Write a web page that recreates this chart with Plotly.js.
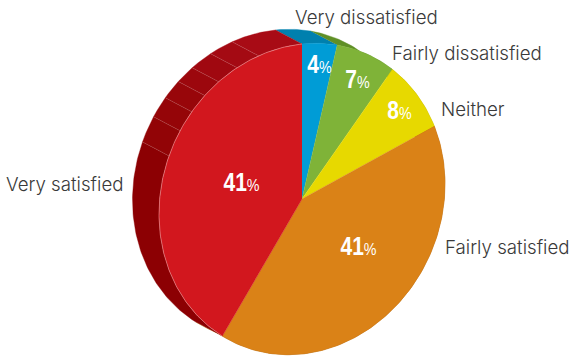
<!DOCTYPE html>
<html>
<head>
<meta charset="utf-8">
<script src="https://cdn.plot.ly/plotly-3.0.1.min.js"></script>
<style>html,body{margin:0;padding:0;background:#fff;overflow:hidden}#chart{width:571px;height:356px}</style>
</head>
<body>
<div id="chart"></div>
<script>
// Survey results, clockwise from twelve o'clock
const categories = ['Very dissatisfied', 'Fairly dissatisfied', 'Neither', 'Fairly satisfied', 'Very satisfied'];
const shares = [4, 7, 8, 41, 41];
const faceColors = ['#009cd6', '#7fb338', '#e7d900', '#da8217', '#d2171e'];
const sideColors = ['#0080ae', '#5f8f26', '#b5aa00', '#a9620f', '#8c0003'];

// Creases on the rim of the largest wedge, as a percentage of the full turn
const rimCreases = [95.1, 92.5, 90.1, 88.1, 86.0, 83.75, 81.0];
const rimShades = ['#a80b15', '#a40a13', '#a00810', '#9c070d', '#98060a', '#950508', '#920406', '#8c0003'];

// Label anchors
const outerLabelX = [295, 392, 441, 445, 6];
const outerLabelY = [17, 53, 109, 247, 184];
const valueLabelX = [319, 357, 399, 358, 241];
const valueLabelY = [64, 79, 110, 246, 182];

// Tilted disc: centre, half-width, half-height, shear, and extrusion offset
const disc = {cx: 302, cy: 199, a: 143, b: 155, shear: -15, dx: -26.5, dy: -14};

function rimPoint(turn, back) {
  const t = turn * 2 * Math.PI;
  return [
    disc.cx + disc.a * Math.sin(t) + (back ? disc.dx : 0),
    disc.cy - disc.b * Math.cos(t) + disc.shear * Math.sin(t) + (back ? disc.dy : 0)
  ];
}

function arc(from, to, back) {
  const n = Math.max(2, Math.ceil((to - from) * 360));
  const pts = [];
  for (let i = 0; i <= n; i++) pts.push(rimPoint(from + (to - from) * i / n, back));
  return pts;
}

function polygon(pts, color) {
  return {
    type: 'scatter', mode: 'lines', fill: 'toself', fillcolor: color,
    x: pts.map(p => p[0]), y: pts.map(p => p[1]),
    line: {color: color, width: 0.4}, hoverinfo: 'skip', showlegend: false
  };
}

function edge(pts, color, width) {
  return {
    type: 'scatter', mode: 'lines',
    x: pts.map(p => p[0]), y: pts.map(p => p[1]),
    line: {color: color, width: width}, hoverinfo: 'skip', showlegend: false
  };
}

const total = shares.reduce((s, v) => s + v, 0);
const starts = [];
let running = 0;
shares.forEach(v => { starts.push(running / total); running += v; });
const ends = starts.map((s, i) => s + shares[i] / total);

const traces = [];

// Extruded side, drawn first so the face covers whatever is hidden
shares.forEach((v, i) => {
  if (i === shares.length - 1) return;
  const strip = arc(starts[i], ends[i], false).concat(arc(starts[i], ends[i], true).reverse());
  traces.push(polygon(strip, sideColors[i]));
});

// The largest wedge's rim is split into shaded facets
const lastStart = starts[starts.length - 1];
const facetEdges = [1].concat(rimCreases.map(c => c / 100), [lastStart]);
for (let i = 0; i < facetEdges.length - 1; i++) {
  const hi = facetEdges[i], lo = facetEdges[i + 1];
  const strip = arc(lo, hi, false).concat(arc(lo, hi, true).reverse());
  traces.push(polygon(strip, rimShades[i]));
}
rimCreases.forEach(c => {
  const turn = c / 100;
  traces.push(edge([rimPoint(turn, false), rimPoint(turn, true)], 'rgba(255,255,255,0.2)', 0.6));
});

// Top face
shares.forEach((v, i) => {
  const pts = [[disc.cx, disc.cy]].concat(arc(starts[i], ends[i], false));
  traces.push(polygon(pts, faceColors[i]));
});
traces.push(edge(arc(lastStart, 1, false), 'rgba(255,225,225,0.55)', 0.7));

const outerAnnotations = categories.map((c, i) => ({
  x: outerLabelX[i], y: outerLabelY[i], xref: 'x', yref: 'y',
  text: c, showarrow: false, xanchor: 'left', yanchor: 'middle', xshift: -2,
  font: {family: 'Inter, Liberation Sans, sans-serif', size: 18.7, weight: 300, color: '#3a3a3a'}
}));

const valueAnnotations = shares.map((v, i) => ({
  x: valueLabelX[i], y: valueLabelY[i], xref: 'x', yref: 'y',
  text: '<b>' + v + '</b><span style="font-size:17px;font-weight:400">%</span>',
  showarrow: false, xanchor: 'center', yanchor: 'middle',
  font: {family: 'Liberation Sans, sans-serif', size: 25, color: '#ffffff'}
}));

Plotly.newPlot('chart', traces, {
  width: 571, height: 356,
  margin: {l: 0, r: 0, t: 0, b: 0},
  paper_bgcolor: '#ffffff', plot_bgcolor: '#ffffff',
  showlegend: false,
  xaxis: {range: [0, 571], visible: false, fixedrange: true},
  yaxis: {range: [356, 0], visible: false, fixedrange: true},
  annotations: outerAnnotations.concat(valueAnnotations)
}, {staticPlot: true, displayModeBar: false}).then(() => {
  // The percentages are set in a condensed cut: narrow their glyphs about their centres
  document.querySelectorAll('#chart .annotation').forEach(node => {
    if (+node.getAttribute('data-index') < categories.length) return;
    const label = node.querySelector('.annotation-text');
    label.style.transformBox = 'fill-box';
    label.style.transformOrigin = 'center';
    label.style.transform = 'scaleX(0.84)';
  });
});
</script>
</body>
</html>
